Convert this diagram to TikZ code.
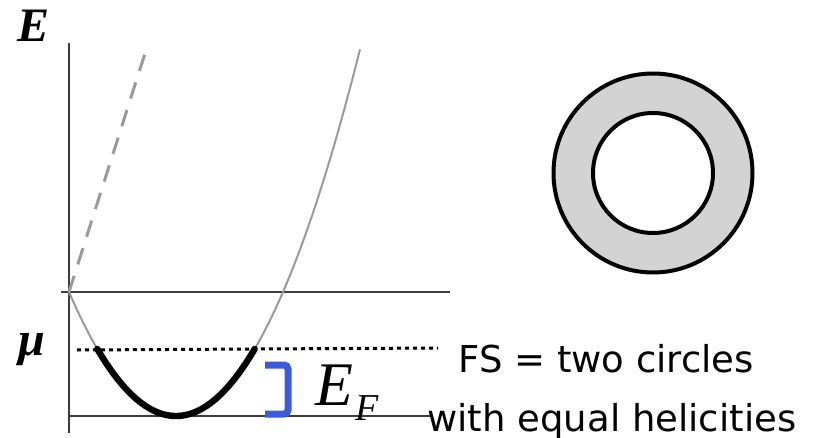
\documentclass[tikz,border=0pt]{standalone}
\usepackage{fontspec}
\setmainfont{Liberation Serif}
\newfontfamily\fslabel{DejaVu Sans}
\definecolor{bandgray}{HTML}{9A9A9A}
\definecolor{ringgray}{HTML}{D3D3D3}
\definecolor{efblue}{HTML}{3B5BDB}
\definecolor{axisgray}{HTML}{3C3C3C}

\begin{document}
\begin{tikzpicture}[x=0.5pt,y=-0.5pt,
    axis/.style={draw=axisgray,line width=0.7pt},
    band/.style={draw=bandgray,line width=1pt},
    occupied/.style={draw=black,line width=3.2pt,line cap=round},
    fermi/.style={draw=black,line width=1.5pt,dash pattern=on 2pt off 2pt},
    ring/.style={draw=black,line width=2pt},
    axislabel/.style={font=\fontsize{24}{24}\selectfont\bfseries\itshape,inner sep=0pt},
    fstext/.style={font=\fslabel\fontsize{18.5}{18.5}\selectfont,inner sep=0pt,anchor=base west}
  ]
  \useasboundingbox (0,0) rectangle (819,438);

  % axes
  \draw[axis] (69,43) -- (69,433);
  \draw[axis] (61,292) -- (450,292);
  \draw[axis] (69,416) -- (430,416);

  % bands
  \draw[band,line width=1.5pt,dash pattern=on 8.5pt off 6pt] (69,292) -- (148,44);
  \draw[band] plot[domain=-1.07:1.84,samples=80]
    ({176+100*\x},{416-108.3*\x*\x});
  \draw[occupied] plot[domain=-0.787:0.787,samples=60]
    ({176+100*\x},{416-108.3*\x*\x});

  % chemical potential
  \draw[fermi] (77,350) -- (438,348);
  \draw[efblue,line width=3.5pt,rounded corners=2pt]
    (265,365) -- (288,365) -- (288,414) -- (265,414);

  % labels
  \node[axislabel] (elabel) at (34,26) {E};
  \node[axislabel] (mulabel) at (32,350) {μ};
  \node[inner sep=0pt,anchor=base west,font=\fontsize{31}{31}\selectfont\itshape]
    (eflabel) at (315,405) {E\kern1pt\raisebox{-7.5pt}{\fontsize{19}{19}\selectfont F}};
  \node[fstext] (fsline) at (458,372) {FS = two circles};
  \node[fstext] (helline) at (427,431) {with equal helicities};

  % Fermi surface
  \node[ring,circle,fill=ringgray,minimum size=99.5pt,inner sep=0pt] (outer) at (653,173) {};
  \node[ring,circle,fill=white,minimum size=60pt,inner sep=0pt] (inner) at (outer.center) {};
\end{tikzpicture}
\end{document}
